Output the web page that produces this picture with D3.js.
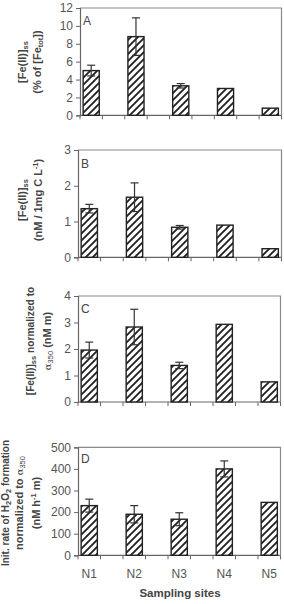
<!DOCTYPE html>
<html><head><meta charset="utf-8">
<script src="https://cdn.jsdelivr.net/npm/d3@7"></script>
<style>
html,body{margin:0;padding:0;background:#fff;}
svg{display:block;font-family:"Liberation Sans",Arial,sans-serif;}
</style></head>
<body>
<script>
const sites = ["N1","N2","N3","N4","N5"];
// slots: categories sit in every other slot of the category axis
const slots = ["N1","s1","N2","s2","N3","s3","N4","s4","N5"];

const valuesA = [5.0, 8.8, 3.3, 3.0, 0.8];
const errorsA = [0.6, 2.1, 0.25, 0, 0];
const ticksA = [0,2,4,6,8,10,12];

const valuesB = [1.36, 1.68, 0.84, 0.90, 0.24];
const errorsB = [0.12, 0.40, 0.05, 0, 0];
const ticksB = [0,1,2,3];

const valuesC = [1.96, 2.83, 1.38, 2.93, 0.76];
const errorsC = [0.30, 0.67, 0.12, 0, 0];
const ticksC = [0,1,2,3,4];

const valuesD = [230, 190, 167, 400, 245];
const errorsD = [30, 40, 30, 37, 0];
const ticksD = [0,100,200,300,400,500];

const W = 284, H = 604;
const svg = d3.select("body").append("svg").attr("width", W).attr("height", H);

const defs = svg.append("defs");
const pat = defs.append("pattern").attr("id","hatch").attr("patternUnits","userSpaceOnUse")
  .attr("width",7).attr("height",7);
pat.append("rect").attr("width",7).attr("height",7).attr("fill","#fff");
pat.append("path").attr("d","M-1,1 l2,-2 M0,7 l7,-7 M6,8 l2,-2")
  .attr("stroke","#222").attr("stroke-width",1.9);

const panels = [
  {letter:"A", top:8, bottom:115.3, left:80, right:281.5, values:valuesA, errors:errorsA, ticks:ticksA, letterY:25,
   labelCy:62, lines:[
     {x:22, parts:[["[Fe(II)]"],["ss","sub"]]},
     {x:37, parts:[["(% of [Fe"],["tot","sub"],["])"]]}
   ]},
  {letter:"B", top:150, bottom:257.3, left:78, right:281.5, values:valuesB, errors:errorsB, ticks:ticksB, letterY:168,
   labelCy:200, lines:[
     {x:22, parts:[["[Fe(II)]"],["ss","sub"]]},
     {x:38, parts:[["(nM / 1mg C L"],["-1","sup"],[")"]]}
   ]},
  {letter:"C", top:296, bottom:402, left:78, right:280.5, values:valuesC, errors:errorsC, ticks:ticksC, letterY:313,
   labelCy:341, lines:[
     {x:30, size:10.2, parts:[["[Fe(II)]"],["ss","sub"],[" normalized to"]]},
     {x:47, parts:[["α","norm"],["350","subn"],[" (nM m)"]]}
   ]},
  {letter:"D", top:447.3, bottom:555.3, left:78, right:280.5, values:valuesD, errors:errorsD, ticks:ticksD, letterY:463,
   labelCy:503, lines:[
     {x:5.5, size:10, parts:[["Init. rate of H"],["2","sub"],["O"],["2","sub"],[" formation"]]},
     {x:19, parts:[["normalized to "],["α","norm"],["350","subn"]]},
     {x:36, parts:[["(nM h"],["-1","sup"],[" m)"]]}
   ]}
];

panels.forEach((p, pi) => {
  const x = d3.scaleBand().domain(slots).range([p.left, p.right]).padding(0);
  const y = d3.scaleLinear().domain([0, d3.max(p.ticks)]).range([p.bottom, p.top]);
  const g = svg.append("g");

  // plot frame (top and right)
  g.append("path")
    .attr("d", `M${p.left},${p.top}H${p.right}V${p.bottom}`)
    .attr("fill","none").attr("stroke","#8a8a8a").attr("stroke-width",1.2);

  // y axis
  const ya = g.append("g").attr("transform",`translate(${p.left},0)`)
    .call(d3.axisLeft(y).tickValues(p.ticks).tickSize(4).tickPadding(3).tickFormat(d3.format("d")));
  ya.select(".domain").attr("stroke","#666").attr("stroke-width",1.2);
  ya.selectAll(".tick line").attr("stroke","#666");
  ya.selectAll("text").attr("font-size","12px").attr("fill","#555")
    .attr("font-family","'Liberation Sans',Arial,sans-serif");

  // x axis with tick marks at slot boundaries
  const xa = g.append("g").attr("transform",`translate(0,${p.bottom})`);
  xa.append("line").attr("x1",p.left).attr("x2",p.right).attr("stroke","#666").attr("stroke-width",1.2);
  const bounds = slots.map(s => x(s)).concat([p.right]);
  xa.selectAll("line.tk").data(bounds).join("line").attr("class","tk")
    .attr("x1",d=>d).attr("x2",d=>d).attr("y1",0).attr("y2",4).attr("stroke","#666");

  // bars
  const bw = x.bandwidth()*0.72;
  g.selectAll("rect.bar").data(sites).join("rect").attr("class","bar")
    .attr("x", (d) => x(d) + x.bandwidth()/2 - bw/2)
    .attr("width", bw)
    .attr("y", (d,i) => y(p.values[i]))
    .attr("height", (d,i) => p.bottom - y(p.values[i]))
    .attr("fill","url(#hatch)").attr("stroke","#222").attr("stroke-width",1.4);

  // error bars
  sites.forEach((s,i) => {
    const e = p.errors[i];
    if (!e) return;
    const cx = x(s) + x.bandwidth()/2;
    const v = p.values[i];
    const eg = g.append("g").attr("stroke","#333").attr("stroke-width",1.2);
    eg.append("line").attr("x1",cx).attr("x2",cx).attr("y1",y(v-e)).attr("y2",y(v+e));
    eg.append("line").attr("x1",cx-4).attr("x2",cx+4).attr("y1",y(v+e)).attr("y2",y(v+e));
    eg.append("line").attr("x1",cx-4).attr("x2",cx+4).attr("y1",y(v-e)).attr("y2",y(v-e));
  });

  // panel letter
  g.append("text").attr("x", p.left + 3).attr("y", p.letterY)
    .attr("font-size","12px").attr("fill","#444").text(p.letter);

  // y label lines
  p.lines.forEach(line => {
    const t = g.append("text")
      .attr("transform",`translate(${line.x},${p.labelCy}) rotate(-90)`)
      .attr("text-anchor","middle").attr("dy","0.35em")
      .attr("font-size",(line.size||11)+"px").attr("font-weight","bold").attr("fill","#444");
    line.parts.forEach(part => {
      const ts = t.append("tspan").text(part[0]);
      const kind = part[1];
      if (kind === "sub") ts.attr("font-size","7.5px").attr("baseline-shift","-25%");
      else if (kind === "sup") ts.attr("font-size","7.5px").attr("baseline-shift","45%");
      else if (kind === "norm") ts.attr("font-weight","normal").attr("font-family","'DejaVu Serif',serif").attr("font-size","10px");
      else if (kind === "subn") ts.attr("font-weight","normal").attr("font-size","7.5px").attr("baseline-shift","-25%");
    });
  });

  // x tick labels only on bottom panel
  if (pi === panels.length - 1) {
    g.selectAll("text.xl").data(sites).join("text").attr("class","xl")
      .attr("x", d => x(d) + x.bandwidth()/2).attr("y", p.bottom + 23)
      .attr("text-anchor","middle").attr("font-size","12px").attr("fill","#555").text(d=>d);
    g.append("text").attr("x", 180).attr("y", 597).attr("text-anchor","middle")
      .attr("font-size","11.5px").attr("font-weight","bold").attr("fill","#444").text("Sampling sites");
  }
});
</script>
</body></html>
